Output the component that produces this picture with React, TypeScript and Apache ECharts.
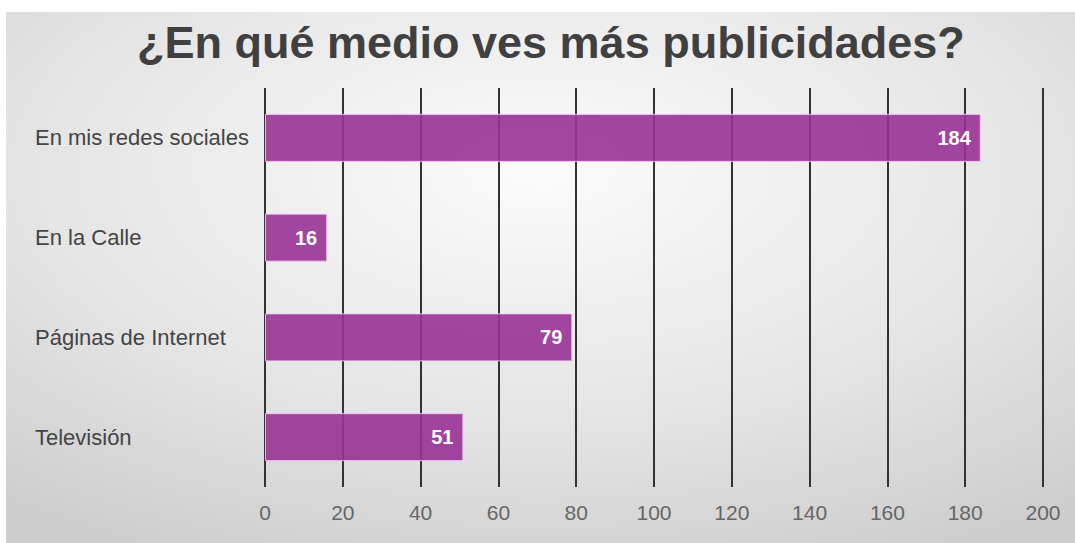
import React, { useEffect, useRef } from "react";
import * as echarts from "echarts";

const categories = ["En mis redes sociales", "En la Calle", "Páginas de Internet", "Televisión"];
const values = [184, 16, 79, 51];
const titleText = "¿En qué medio ves más publicidades?";

export default function App() {
  const ref = useRef<HTMLDivElement>(null);
  useEffect(() => {
    const chart = echarts.init(ref.current!, null, { renderer: "svg" });
    chart.setOption({
      animation: false,
      backgroundColor: new echarts.graphic.RadialGradient(0.5, 0.3, 0.8, [
        { offset: 0, color: "#fbfbfb" },
        { offset: 0.6, color: "#e4e4e4" },
        { offset: 1, color: "#cdcdcd" },
      ]),
      title: {
        text: titleText,
        left: 126,
        top: 3,
        textStyle: {
          fontFamily: "Liberation Sans, Arial, sans-serif",
          fontWeight: "bold",
          fontSize: 45,
          color: "#404040",
        },
      },
      grid: { left: 259, right: 32, top: 76, bottom: 56 },
      xAxis: {
        type: "value",
        min: 0,
        max: 200,
        interval: 20,
        axisLine: { show: false },
        axisTick: { show: false },
        splitLine: { show: true, lineStyle: { color: "#333", width: 2 } },
        axisLabel: {
          color: "#666",
          fontSize: 21,
          fontFamily: "Liberation Sans, Arial, sans-serif",
          margin: 15,
        },
      },
      yAxis: {
        type: "category",
        data: categories,
        inverse: true,
        axisLine: { show: false },
        axisTick: { show: false },
        axisLabel: {
          color: "#444",
          fontSize: 22,
          fontFamily: "Liberation Sans, Arial, sans-serif",
          align: "left",
          margin: 230,
        },
      },
      series: [
        {
          type: "bar",
          data: values,
          barWidth: 48,
          itemStyle: {
            color: "rgba(152, 50, 152, 0.9)",
            borderColor: "rgba(245, 200, 245, 0.9)",
            borderWidth: 1,
          },
          label: {
            show: true,
            position: "insideRight",
            distance: 10,
            color: "#fff",
            fontWeight: "bold",
            fontSize: 20,
            fontFamily: "Liberation Sans, Arial, sans-serif",
          },
        },
      ],
    });
    return () => chart.dispose();
  }, []);
  return (
    <div style={{ position: "fixed", left: 0, top: 0, width: 1075, height: 543, background: "#fff" }}>
      <div ref={ref} style={{ position: "absolute", left: 6, top: 12, width: 1069, height: 531 }} />
    </div>
  );
}
